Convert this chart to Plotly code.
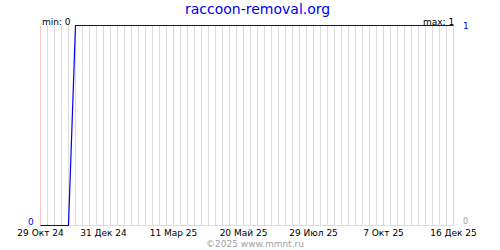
import pandas as pd
import plotly.graph_objects as go

# --- data ---
dates = ["2024-10-29", "2024-11-26", "2024-12-03", "2025-12-16"]
values = [0, 0, 1, 1]

tick_dates = ["2024-10-29", "2024-12-31", "2025-03-11", "2025-05-20",
              "2025-07-29", "2025-10-07", "2025-12-16"]
tick_labels = ["29 Окт 24", "31 Дек 24", "11 Мар 25", "20 Май 25",
               "29 Июл 25", "7 Окт 25", "16 Дек 25"]

site = "raccoon-removal.org"
credit = "©2025 www.mmnt.ru"

FONT = "DejaVu Sans"
BLUE = "#0000ee"
GRID = "#dcdcdc"
PINK = "#ffc4c4"

# half-day padding so 1px lines land on pixel centres
x_start = (pd.Timestamp(dates[0]) - pd.Timedelta(hours=12)).isoformat()
x_end = (pd.Timestamp(dates[-1]) + pd.Timedelta(hours=12)).isoformat()

fig = go.Figure()
fig.add_trace(go.Scatter(
    x=dates, y=values, mode="lines",
    line=dict(color=BLUE, width=1.2),
    hoverinfo="skip", showlegend=False,
))

fig.update_layout(
    width=500, height=250,
    margin=dict(l=40, r=46, t=24, b=24, pad=0),
    paper_bgcolor="white", plot_bgcolor="white",
    font=dict(family=FONT, size=9, color="black"),
    xaxis=dict(
        type="date",
        range=[x_start, x_end],
        tickmode="array", tickvals=tick_dates, ticktext=tick_labels,
        showgrid=False, showline=False, zeroline=False,
        ticks="", ticklen=0,
        tickfont=dict(family=FONT, size=9, color="black"),
        fixedrange=True,
    ),
    yaxis=dict(
        range=[-0.0025, 1.0075], showgrid=False, zeroline=False,
        showticklabels=False, ticks="", showline=False, fixedrange=True,
    ),
    showlegend=False,
)

# weekly grey grid, baseline, and pink lines at labelled dates
weekly = pd.date_range(dates[0], dates[-1], freq="7D")
major = set(pd.to_datetime(tick_dates))
shapes = []
for d in weekly:
    if d in major:
        continue
    ds = d.strftime("%Y-%m-%d")
    shapes.append(dict(type="line", xref="x", yref="y", x0=ds, x1=ds,
                       y0=0, y1=1, line=dict(color=GRID, width=1), layer="below"))
shapes.append(dict(type="line", xref="x", yref="y", x0=dates[0], x1=dates[-1],
                   y0=0, y1=0, line=dict(color=GRID, width=1), layer="below"))
for ds in tick_dates:
    shapes.append(dict(type="line", xref="x", yref="y", x0=ds, x1=ds,
                       y0=0, y1=1, line=dict(color=PINK, width=1), layer="below"))
fig.update_layout(shapes=shapes)

vmin, vmax = min(values), max(values)
ann = [
    dict(text=site, xref="paper", yref="paper", x=0.525, y=1.075,
         xanchor="center", yanchor="middle", showarrow=False,
         font=dict(family=FONT, size=14, color=BLUE)),
    dict(text=f"min: {vmin}", xref="x", yref="y", x=dates[0], y=vmax,
         xanchor="left", yanchor="bottom", showarrow=False, yshift=-3, xshift=-1,
         font=dict(family=FONT, size=9, color="black")),
    dict(text=f"max: {vmax}", xref="x", yref="y", x=dates[-1], y=vmax,
         xanchor="right", yanchor="bottom", showarrow=False, yshift=-3, xshift=2,
         font=dict(family=FONT, size=9, color="black")),
    dict(text=str(vmax), xref="x", yref="y", x=dates[-1], y=vmax,
         xanchor="left", yanchor="middle", showarrow=False, xshift=7,
         font=dict(family=FONT, size=9, color=BLUE)),
    dict(text=str(vmin), xref="x", yref="y", x=dates[0], y=vmin,
         xanchor="right", yanchor="bottom", showarrow=False, xshift=-5, yshift=-3,
         font=dict(family=FONT, size=9, color=BLUE)),
    dict(text=str(vmin), xref="x", yref="y", x=dates[-1], y=vmin,
         xanchor="left", yanchor="bottom", showarrow=False, xshift=7, yshift=-2,
         font=dict(family=FONT, size=8, color="#a0a0a0")),
    dict(text=credit, xref="paper", yref="paper", x=0.52, y=-0.09,
         xanchor="center", yanchor="middle", showarrow=False,
         font=dict(family=FONT, size=9, color="#a0a0a0")),
]
fig.update_layout(annotations=ann)

fig.write_html("out.html", config={"displayModeBar": False, "staticPlot": True})
